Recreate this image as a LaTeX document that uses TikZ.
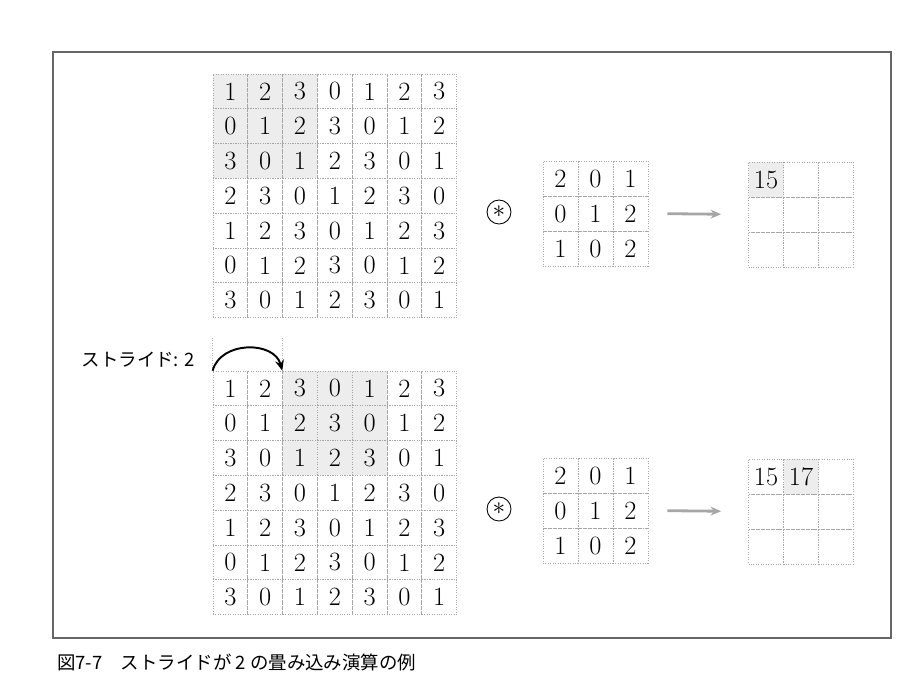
\documentclass[tikz,border=0pt]{standalone}
\usepackage{fontspec}
\newfontfamily\jpfont{Noto Sans CJK JP}
\usepackage{amsmath}
\usetikzlibrary{arrows.meta,positioning,calc}

\begin{document}
\begin{tikzpicture}[x=0.02cm,y=-0.02cm,
	cell/.style={draw=black!35,densely dotted,line width=0.4pt,minimum size=0.696cm,inner sep=0pt,font=\fontsize{15}{17}\selectfont},
	kcell/.style={cell,minimum size=0.7cm},
	conv/.style={circle,draw,line width=0.5pt,minimum size=0.48cm,inner sep=0pt,font=\fontsize{15}{17}\selectfont},
	flow/.style={draw=black!35,line width=1.6pt,-{Stealth[length=6pt,width=5pt]}},
	guide/.style={draw=black!30,densely dotted,line width=0.4pt}]
	\useasboundingbox (0,0) rectangle (917,677);
	\draw[black!60, line width=0.6pt] (53,52) rectangle (891,638);

	% input, stride step 0
	\foreach \i in {0,...,6}
		\foreach \j in {0,...,6} {
			\pgfmathtruncatemacro\v{mod(9+\j-\i,4)}
			\pgfmathtruncatemacro\hl{(\i<3)&&(\j<3)}
			\ifnum\hl=1 \def\fc{black!7}\else\def\fc{none}\fi
			\node[cell,fill=\fc] (a-\i-\j) at (230.4+34.8*\j, 91.4+34.8*\i) {\v};
		}

	% input, stride step 1
	\foreach \i in {0,...,6}
		\foreach \j in {0,...,6} {
			\pgfmathtruncatemacro\v{mod(9+\j-\i,4)}
			\pgfmathtruncatemacro\hl{(\i<3)&&(\j>1)&&(\j<5)}
			\ifnum\hl=1 \def\fc{black!7}\else\def\fc{none}\fi
			\node[cell,fill=\fc] (b-\i-\j) at (230.4+34.8*\j, 388.4+34.8*\i) {\v};
		}

	% kernels
	\foreach \row [count=\i from 0] in {{2,0,1},{0,1,2},{1,0,2}}
		\foreach \v [count=\j from 0] in \row {
			\node[kcell] (ka-\i-\j) at (560.5+35*\j, 178.5+35*\i) {\v};
			\node[kcell] (kb-\i-\j) at (560.5+35*\j, 475.5+35*\i) {\v};
		}

	% outputs
	\foreach \i in {0,1,2}
		\foreach \j in {0,1,2} {
			\node[kcell] (oa-\i-\j) at (766+35*\j, 179.5+35*\i) {};
			\node[kcell] (ob-\i-\j) at (766+35*\j, 476.5+35*\i) {};
		}
	\node[kcell,fill=black!7] at (oa-0-0) {15};
	\node[kcell] at (ob-0-0) {15};
	\node[kcell,fill=black!7] at (ob-0-1) {17};

	\node[conv] (conva) at (499,212) {$\ast$};
	\node[conv] (convb) at (499,509) {$\ast$};

	\draw[flow,shorten <=0.38cm,shorten >=0.54cm] (ka-1-2.east) -- (oa-1-0.west);
	\draw[flow,shorten <=0.38cm,shorten >=0.54cm] (kb-1-2.east) -- (ob-1-0.west);

	% stride
	\draw[guide] (b-0-0.north west) -- ++(0,-33);
	\draw[guide] (b-0-2.north west) -- ++(0,-33);
	\draw[line width=1.1pt,-{Stealth[length=6pt,width=5pt]}] (b-0-0.north west) .. controls +(8,-30) and +(-8,-30) .. (b-0-2.north west);
	\node[anchor=east,font=\jpfont\fontsize{10.5}{12}\selectfont] (stride) at (201,360) {ストライド: 2};

	\node[anchor=west,font=\jpfont\fontsize{10.5}{12}\selectfont] (caption) at (51,662) {図7-7　ストライドが 2 の畳み込み演算の例};
\end{tikzpicture}
\end{document}
